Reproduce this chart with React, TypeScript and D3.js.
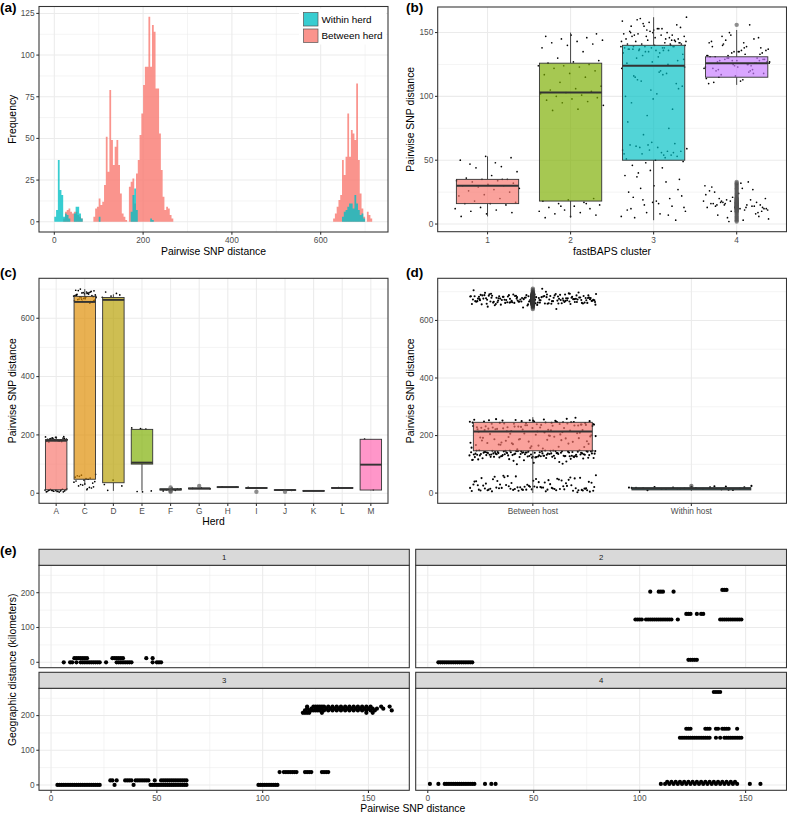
import React from "react";
import * as d3 from "d3";

// ================= DATA =================
// (a) histogram bins: [bin start, count], bin width 4
const HIST_BIN_WIDTH = 4;
const histSeries = ["Within herd", "Between herd"];
const withinHerdBins: [number, number][] = [
  [0, 3], [4, 7], [8, 37], [12, 19], [16, 16], [20, 3], [24, 5], [28, 4], [32, 2],
  [44, 5], [48, 9], [52, 9], [56, 5], [60, 2], [100, 3],
  [172, 6], [176, 16], [180, 20], [184, 7], [216, 2], [220, 1],
  [648, 3], [652, 6], [656, 7], [660, 9], [664, 11], [668, 11], [672, 8], [676, 16],
  [680, 11], [684, 7], [688, 4], [692, 5], [696, 2],
];
const betweenHerdBins: [number, number][] = [
  [20, 2], [24, 6], [28, 7], [32, 8], [36, 6], [40, 5], [44, 6], [48, 6], [52, 4], [56, 3], [60, 2],
  [88, 3], [92, 8], [96, 9], [100, 14], [104, 10], [108, 12], [112, 22], [116, 51], [120, 30],
  [124, 79], [128, 49], [132, 34], [136, 45], [140, 49], [144, 34], [148, 17], [152, 5], [156, 3], [160, 1],
  [168, 21], [172, 24], [176, 26], [180, 11], [184, 29], [188, 37], [192, 52], [196, 65], [200, 82],
  [204, 93], [208, 93], [212, 123], [216, 93], [220, 118], [224, 114], [228, 80], [232, 80], [236, 53],
  [240, 31], [244, 15], [248, 7], [252, 9], [256, 8], [260, 4], [264, 2],
  [628, 2], [632, 5], [636, 9], [640, 13], [644, 16], [648, 37], [652, 28], [656, 39], [660, 65],
  [664, 39], [668, 55], [672, 53], [676, 49], [680, 83], [684, 37], [688, 17], [692, 8], [696, 3],
  [704, 6], [708, 4], [712, 2],
];
const histXTicks = [0, 200, 400, 600];
const histYTicks = [0, 25, 50, 75, 100, 125];

// (b) fastBAPS clusters
const clusterLabels = ["1", "2", "3", "4"];
const clusterColors = ["#F8766D", "#7CAE00", "#00BFC4", "#C77CFF"];
// [lower whisker, Q1, median, Q3, upper whisker]
const clusterBoxStats = [
  [6, 16, 30, 35, 53],
  [5, 18, 103, 126, 150],
  [3, 50, 124, 140, 162],
  [109, 115, 126, 131, 152],
];
const cluster1Points = [48, 47, 52, 53, 50, 45, 44, 41, 38, 36, 35, 35, 34, 34, 33, 32, 31, 30, 30, 29, 28, 27, 26, 25, 23, 22, 20, 18, 17, 16, 16, 15, 13, 12, 11, 10, 9, 8, 6, 35];
const cluster2Points = [149, 148, 147, 146, 145, 144, 143, 142, 141, 140, 138, 135, 130, 128, 127, 126, 125, 124, 124, 123, 122, 120, 118, 117, 115, 111, 108, 106, 105, 104, 103, 102, 101, 100, 99, 98, 97, 96, 95, 93, 90, 89, 20, 19, 18, 17, 16, 15, 14, 13, 12, 11, 10, 9, 8, 7, 6, 5, 16, 14];
const cluster3Points = [
  155, 148, 152, 143, 138, 160, 145, 150, 141, 136, 157, 147, 153, 139, 144, 158, 149, 142, 137, 154,
  146, 151, 140, 135, 162, 148, 143, 156, 138, 145, 150, 141, 133, 153, 147, 139, 144, 159, 136, 149,
  142, 152, 137, 146, 155, 140, 134, 148, 143, 151, 138, 145, 161, 141, 136, 150, 144, 147, 139, 153,
  130, 128, 127, 126, 125, 132, 129, 131, 137, 139, 135, 134, 138, 136, 142, 140, 137, 141, 139, 143,
  120, 115, 110, 105, 100, 118, 112, 108, 102, 95, 90, 85, 122, 117, 113, 106, 98, 80, 75, 70, 123, 119, 116,
  63, 58, 55, 52, 60, 57, 50, 62, 54, 48, 59, 56, 61, 53, 64, 51, 57, 55, 49, 60, 46, 56, 62, 58, 54,
  40, 35, 30, 25, 20, 15, 10, 8, 5, 3, 42, 38, 33, 28, 22, 18, 12, 14, 9, 6, 44, 37, 27, 17, 11, 7, 19, 13, 16, 21,
];
const cluster4Points = [
  128, 132, 125, 140, 118, 135, 122, 145, 130, 127, 138, 115, 133, 124, 142, 120, 129, 136, 112, 131,
  126, 148, 123, 139, 117, 134, 128, 143, 121, 130, 137, 113, 127, 146, 125, 132, 119, 141, 129, 135,
  111, 126, 150, 122, 133, 128, 138, 116, 131, 124, 144, 127, 136, 120, 130, 134, 114, 125, 147, 129,
  123, 139, 118, 132, 126, 142, 121, 128, 135, 110, 156,
  15, 20, 12, 25, 8, 18, 30, 13, 17, 10, 22, 16, 14, 19, 11, 28, 15, 9, 21, 13, 33, 17, 12, 24, 16,
  14, 2, 18, 11, 20, 15, 13, 26, 19, 16, 12, 32, 14, 17, 10, 23, 15, 18, 13, 31, 29, 27, 5, 4, 3, 7, 6,
];
const clusterPoints = [cluster1Points, cluster2Points, cluster3Points, cluster4Points];
const clusterYTicks = [0, 50, 100, 150];

// (c) herds
const herdLabels = ["A", "C", "D", "E", "F", "G", "H", "I", "J", "K", "L", "M"];
const herdColors = ["#F8766D", "#DE8C00", "#B79F00", "#7CAE00", "#00BA38", "#00C08B", "#00BFC4", "#00B4F0", "#619CFF", "#C77CFF", "#F564E3", "#FF64B0"];
const herdBoxStats = [
  [5, 12, 180, 184, 195],
  [28, 48, 656, 675, 700],
  [8, 36, 663, 671, 682],
  [9, 100, 105, 219, 222],
  [9, 11, 13, 15, 17],
  [14, 15, 16, 18, 19],
  [20, 21, 21, 22, 22],
  [16, 17, 18, 19, 20],
  [9, 10, 11, 12, 13],
  [7, 8, 8, 9, 9],
  [17, 18, 18, 19, 19],
  [10, 11, 98, 185, 186],
];
const herdPoints = [
  [180, 185, 188, 192, 178, 183, 190, 186, 181, 176, 189, 184, 193, 179, 187, 182, 191, 185, 177, 188, 183, 180, 186, 194, 181,
    5, 8, 10, 12, 6, 9, 14, 7, 11, 4, 13, 8, 10, 6, 12, 9, 15, 7, 11, 5],
  [660, 670, 680, 690, 665, 675, 685, 695, 655, 668, 678, 688, 700, 662, 672, 682, 692, 658, 676, 686,
    666, 674, 684, 696, 652, 670, 680, 690, 664, 678, 688, 660, 683, 673, 694, 667, 679, 657, 687, 671,
    15, 25, 35, 45, 55, 20, 30, 40, 50, 60, 18, 28, 38, 48, 58, 22, 32, 42, 52, 62, 65, 12],
  [690, 680, 676, 672, 685, 10, 25, 45, 30],
  [222, 224, 220, 6, 8, 5],
  [10, 12, 15, 18, 8, 14],
  [15, 18, 17],
  [22, 21],
  [18, 20],
  [10, 12],
  [8],
  [19],
  [12, 186],
];
const herdOutliers = [[], [], [], [], [5, 8, 20], [25], [], [5], [5], [], [], []];
const herdYTicks = [0, 200, 400, 600];

// (d) host
const hostLabels = ["Between host", "Within host"];
const hostColors = ["#F8766D", "#00BFC4"];
const hostBoxStats = [
  [0, 147, 214, 246, 264],
  [8, 11, 15, 19, 24],
];
const betweenHostPoints = [
  660, 672, 668, 681, 655, 690, 677, 664, 684, 670, 659, 675, 687, 662, 679, 693, 666, 673, 658, 682,
  671, 650, 688, 676, 661, 669, 685, 657, 674, 680, 667, 692, 663, 678, 654, 686, 670, 665, 683, 660,
  676, 697, 671, 656, 689, 668, 674, 681, 662, 679, 645, 684, 667, 672, 659, 691, 677, 664, 686, 670,
  700, 663, 675, 652, 682, 669, 688, 661, 678, 666, 694, 673, 657, 685, 671, 680, 664, 676, 660, 690,
  668, 683, 653, 674, 679, 665, 687, 671, 662, 681, 648, 677, 669, 692, 658, 684, 673, 666, 689, 675,
  663, 680, 670, 686, 657, 678, 705, 667, 682, 661, 674, 696, 669, 685, 672, 659, 679, 664, 688, 676,
  640, 683, 670, 662, 691, 677, 666, 684, 673, 655, 680, 668, 687, 671, 663, 678, 710, 665, 682, 674,
  667, 679, 661, 685, 672, 658, 690, 676, 664, 681, 669, 687, 656, 674, 683, 662, 678, 671, 693, 666,
  230, 245, 218, 252, 238, 226, 249, 212, 241, 233, 256, 222, 247, 236, 229, 251, 215, 243, 239, 224,
  258, 231, 248, 220, 244, 235, 253, 227, 240, 216, 250, 237, 228, 246, 221, 255, 234, 242, 219, 249,
  232, 226, 254, 238, 245, 223, 262, 236, 213, 247, 195, 180, 165, 205, 172, 188, 158, 199, 176, 210,
  163, 192, 184, 170, 201, 155, 187, 178, 207, 167, 196, 182, 160, 203, 174, 190, 152, 198, 185, 169,
  208, 179, 193, 161, 206, 171, 228, 241, 217, 250, 233, 244, 225, 238, 252, 219, 246, 231, 240, 211,
  257, 235, 243, 222, 249, 229, 237, 214, 253, 242, 186, 175, 200, 168, 191, 157, 183, 204, 173, 197,
  145, 138, 130, 142, 125, 148, 135, 120, 140, 132, 128, 146, 137, 122, 143, 133, 127, 149, 139, 118,
  144, 131, 126, 141, 136, 115, 147, 129, 134, 123, 140, 145, 112, 138, 130, 143, 127, 135, 148, 121,
  141, 133, 125, 139, 110, 146, 131, 137, 124, 144, 129, 136, 108, 142, 132, 128, 147, 119, 140, 134,
  126, 145, 138, 105, 143, 130, 137, 122, 148, 135, 129, 141, 117, 139, 131, 146, 127, 133, 144, 125,
  142, 136, 128, 149, 134, 121, 140, 132, 145, 138, 126, 143, 114, 137, 130, 147, 135, 124, 141, 129,
  100, 146, 133, 139, 127, 144, 131, 136, 148, 123, 142, 134, 128, 145, 116, 138, 132, 140, 126, 143,
  102, 135, 147, 130, 137, 125, 141, 133, 146, 139,
  15, 20, 12, 25, 8, 18, 45, 30, 10, 22, 52, 14, 35, 5, 19, 48, 27, 11, 40, 16,
  55, 9, 23, 33, 13, 58, 21, 6, 42, 17, 29, 12, 50, 24, 10, 38, 15, 46, 20, 7,
  31, 18, 53, 13, 26, 44, 11, 36, 19, 57, 8, 22, 41, 14, 28, 16, 49, 10, 34, 20,
  62, 12, 17, 3, 25, 9, 47, 15, 39, 21, 6, 54, 13, 30, 18, 60, 11, 43, 16, 24,
  14, 8, 37, 19, 51, 12, 27, 10, 59, 17,
];
const withinHostPoints = [12, 15, 18, 20, 14, 16, 22, 17, 13, 19, 25, 15, 21, 11, 16, 18, 24, 14, 20, 17, 10, 23, 15, 19];
const hostPoints = [betweenHostPoints, withinHostPoints];
const hostYTicks = [0, 200, 400, 600];

// (e) geographic vs SNP distance, rows of [km, SNP distances]
const facetLabels = ["1", "2", "3", "4"];
const facet1Rows: [number, number[]][] = [
  [0, [6, 9, 10, 12, 14, 15, 16, 17, 18, 19, 20, 21, 22, 23, 26, 31, 32, 33, 34, 35, 36, 37, 38, 48, 50, 51, 52]],
  [12, [11, 12, 13, 14, 15, 16, 17, 29, 30, 31, 32, 33, 34, 45, 48]],
];
const facet2Rows: [number, number[]][] = [
  [0, [5, 6, 7, 8, 9, 10, 11, 12, 13, 14, 15, 16, 17, 18, 19, 20, 21]],
  [7, [123, 124, 125, 126, 127]],
  [123, [98, 99, 100, 101, 103, 104, 105, 106, 107, 108, 109, 110, 111, 112, 113, 114, 115, 118, 138, 139, 140, 141, 142, 143, 144, 145, 146, 147, 148]],
  [139, [122, 123, 124, 127, 129, 130]],
  [203, [105, 109, 110, 111, 116]],
  [208, [139, 140, 141]],
];
const facet3Rows: [number, number[]][] = [
  [0, [3, 4, 5, 6, 7, 8, 9, 10, 11, 12, 13, 14, 15, 16, 17, 18, 19, 20, 21, 22, 23, 30, 39, 47, 48, 49, 50, 51, 52, 53, 54, 55, 56, 57, 58, 59, 60, 61, 62, 63, 64, 98, 99, 100, 101, 102, 103, 104, 105, 106, 107]],
  [13, [28, 29, 31, 35, 36, 37, 38, 40, 41, 42, 43, 44, 45, 46, 49, 52, 53, 54, 55, 56, 57, 58, 59, 60, 61, 62, 63, 64]],
  [37, [108, 110, 111, 112, 113, 114, 115, 116, 120, 121, 122, 123, 128, 129, 130, 131]],
  [208, [119, 120, 121, 122, 128, 149, 152]],
  [215, [120, 122, 123, 124, 125, 126, 127, 129, 131, 133, 135, 137, 139, 141, 143, 145, 147, 149, 151, 153, 161]],
  [220, [121, 123, 125, 126, 127, 128, 130, 132, 134, 136, 138, 140, 142, 144, 146, 148, 150, 152, 154, 157]],
  [226, [121, 124, 125, 126, 127, 128, 129, 131, 133, 135, 137, 139, 141, 143, 145, 147, 149, 151, 156, 160]],
];
const facet4Rows: [number, number[]][] = [
  [3, [1, 5, 8, 9, 10, 11, 12, 13, 14, 15, 16, 17, 18, 19, 20, 21, 22, 27, 30, 32, 110, 112, 114, 116, 118, 120, 122, 124, 126, 128, 130, 132, 134, 136, 138, 140, 142, 144, 146, 152, 157]],
  [9, [113, 115, 117, 119, 121, 123, 125, 127, 129, 131, 133, 135, 137, 139, 141, 143, 145]],
  [136, [119, 120, 121, 122, 123, 124, 125, 126, 127, 128, 129, 130, 131, 132, 133, 136, 138, 140, 141, 142, 143, 144, 145, 146, 147, 148]],
  [162, [122, 123, 124, 131, 132, 133, 136, 137, 139, 140, 141, 142, 146]],
  [268, [135, 136, 137, 138]],
];
const facetRows = [facet1Rows, facet2Rows, facet3Rows, facet4Rows];
const geoXTicks = [0, 50, 100, 150];
const geoYTicks = [0, 100, 200];

// ================= DRAWING =================
const FONT = "'Liberation Sans', Arial, Helvetica, sans-serif";
const GRID = "#EBEBEB";
const DARK = "#333333";
const TICK_COL = "#4D4D4D";
const TICK_FS = 8.3;
const TITLE_FS = 10.4;

const jit = (i: number, k: number) => ((((i + 1) * 0.6180339887 + k * 0.2719) % 1) * 2 - 1);

type Rect = { x0: number; x1: number; y0: number; y1: number };

function Grid({ r, xMajor = [], xMinor = [], yMajor = [], yMinor = [] }: { r: Rect; xMajor?: number[]; xMinor?: number[]; yMajor?: number[]; yMinor?: number[] }) {
  return (
    <g>
      <rect x={r.x0} y={r.y0} width={r.x1 - r.x0} height={r.y1 - r.y0} fill="#fff" />
      {yMinor.map((y, i) => <line key={"ym" + i} x1={r.x0} x2={r.x1} y1={y} y2={y} stroke={GRID} strokeWidth={0.55} />)}
      {xMinor.map((x, i) => <line key={"xm" + i} x1={x} x2={x} y1={r.y0} y2={r.y1} stroke={GRID} strokeWidth={0.55} />)}
      {yMajor.map((y, i) => <line key={"yM" + i} x1={r.x0} x2={r.x1} y1={y} y2={y} stroke={GRID} strokeWidth={1.07} />)}
      {xMajor.map((x, i) => <line key={"xM" + i} x1={x} x2={x} y1={r.y0} y2={r.y1} stroke={GRID} strokeWidth={1.07} />)}
    </g>
  );
}

function Border({ r }: { r: Rect }) {
  return <rect x={r.x0} y={r.y0} width={r.x1 - r.x0} height={r.y1 - r.y0} fill="none" stroke={DARK} strokeWidth={1.07} />;
}

function YAxis({ x, ticks }: { x: number; ticks: { p: number; label: string }[] }) {
  return (
    <g>
      {ticks.map((t, i) => (
        <g key={i}>
          <line x1={x - 2.7} x2={x} y1={t.p} y2={t.p} stroke={DARK} strokeWidth={1.07} />
          <text x={x - 4.4} y={t.p} dy="0.35em" textAnchor="end" fontSize={TICK_FS} fill={TICK_COL} fontFamily={FONT}>{t.label}</text>
        </g>
      ))}
    </g>
  );
}

function XAxis({ y, ticks }: { y: number; ticks: { p: number; label: string }[] }) {
  return (
    <g>
      {ticks.map((t, i) => (
        <g key={i}>
          <line x1={t.p} x2={t.p} y1={y} y2={y + 2.7} stroke={DARK} strokeWidth={1.07} />
          <text x={t.p} y={y + 4.4} dy="0.78em" textAnchor="middle" fontSize={TICK_FS} fill={TICK_COL} fontFamily={FONT}>{t.label}</text>
        </g>
      ))}
    </g>
  );
}

function Box({ cx, hw, stats, ys, color }: { cx: number; hw: number; stats: number[]; ys: (v: number) => number; color: string }) {
  const [lo, q1, med, q3, hi] = stats;
  return (
    <g>
      <line x1={cx} x2={cx} y1={ys(hi)} y2={ys(q3)} stroke={DARK} strokeWidth={0.9} />
      <line x1={cx} x2={cx} y1={ys(q1)} y2={ys(lo)} stroke={DARK} strokeWidth={0.9} />
      <rect x={cx - hw} y={ys(q3)} width={2 * hw} height={Math.max(0.5, ys(q1) - ys(q3))} fill={color} fillOpacity={0.68} stroke={DARK} strokeWidth={0.9} />
      <line x1={cx - hw} x2={cx + hw} y1={ys(med)} y2={ys(med)} stroke={DARK} strokeWidth={1.9} />
    </g>
  );
}

function YTitle({ x, y, text }: { x: number; y: number; text: string }) {
  return (
    <text x={x} y={y} transform={`rotate(-90 ${x} ${y})`} textAnchor="middle" dy="0.35em" fontSize={TITLE_FS} fontFamily={FONT} fill="#000">{text}</text>
  );
}
function XTitle({ x, y, text }: { x: number; y: number; text: string }) {
  return <text x={x} y={y} textAnchor="middle" dy="0.35em" fontSize={TITLE_FS} fontFamily={FONT} fill="#000">{text}</text>;
}
function Tag({ x, y, text }: { x: number; y: number; text: string }) {
  return <text x={x} y={y} fontSize={13.5} fontWeight="bold" fontFamily={FONT} fill="#000">{text}</text>;
}

export default function App() {
  // ---------- (a) ----------
  const ra: Rect = { x0: 39, x1: 388, y0: 6.5, y1: 232 };
  const xa = d3.scaleLinear().domain([-34.5, 751.6]).range([ra.x0, ra.x1]);
  const ya = d3.scaleLinear().domain([-6.15, 129.15]).range([ra.y1, ra.y0]);
  const histColors = ["#00BFC4", "#F8766D"];
  const histPath = (bins: [number, number][]) => {
    const p = d3.path();
    bins.forEach(([s, c]) => {
      p.rect(xa(s), ya(c), xa(s + HIST_BIN_WIDTH) - xa(s), ya(0) - ya(c));
    });
    return p.toString();
  };

  // ---------- (b) ----------
  const rb: Rect = { x0: 437.7, x1: 786.5, y0: 7, y1: 231.7 };
  const xb = d3.scaleLinear().domain([0.4, 4.6]).range([rb.x0, rb.x1]);
  const yb = d3.scaleLinear().domain([-6, 170]).range([rb.y1, rb.y0]);
  const hwb = (xb(1.375) - xb(1));

  // ---------- (c) ----------
  const rc: Rect = { x0: 39, x1: 388, y0: 278.3, y1: 503.3 };
  const xc = d3.scaleLinear().domain([0.4, 12.6]).range([rc.x0, rc.x1]);
  const yc = d3.scaleLinear().domain([-34.5, 737]).range([rc.y1, rc.y0]);
  const hwc = xc(1.375) - xc(1);

  // ---------- (d) ----------
  const rd: Rect = { x0: 437.7, x1: 786.5, y0: 278.3, y1: 503.3 };
  const xd = d3.scaleLinear().domain([0.4, 2.6]).range([rd.x0, rd.x1]);
  const yd = d3.scaleLinear().domain([-35.5, 746.5]).range([rd.y1, rd.y0]);
  const hwd = xd(1.375) - xd(1);

  // ---------- (e) ----------
  const colX = [[39, 409.3], [415.7, 786.5]];
  const rowY = [[565.3, 667.7], [688.3, 790.3]];
  const stripH = 16;

  return (
    <svg width={787} height={813} style={{ position: "absolute", left: 0, top: 0, display: "block", background: "#fff" }} fontFamily={FONT}>
      <rect x={0} y={0} width={787} height={813} fill="#fff" />

      {/* ===== (a) ===== */}
      <Grid r={ra}
        xMajor={histXTicks.map(xa)} xMinor={[100, 300, 500, 700].map(xa)}
        yMajor={histYTicks.map(ya)} yMinor={[12.5, 37.5, 62.5, 87.5, 112.5].map(ya)} />
      <path d={histPath(betweenHerdBins)} fill={histColors[1]} fillOpacity={0.78} />
      <path d={histPath(withinHerdBins)} fill={histColors[0]} fillOpacity={0.78} />
      {/* legend */}
      <rect x={299} y={8.5} width={87} height={36} fill="#fff" />
      {histSeries.map((s, i) => (
        <g key={s}>
          <rect x={303.5} y={12.5 + i * 16.5} width={14.5} height={13.5} fill={histColors[i]} fillOpacity={0.78} stroke="#555" strokeWidth={0.7} />
          <text x={321.5} y={19.3 + i * 16.5} dy="0.35em" fontSize={9.9} fontFamily={FONT} fill="#000">{s}</text>
        </g>
      ))}
      <Border r={ra} />
      <YAxis x={ra.x0} ticks={histYTicks.map(t => ({ p: ya(t), label: String(t) }))} />
      <XAxis y={ra.y1} ticks={histXTicks.map(t => ({ p: xa(t), label: String(t) }))} />
      <YTitle x={12.5} y={(ra.y0 + ra.y1) / 2} text="Frequency" />
      <XTitle x={(ra.x0 + ra.x1) / 2} y={251} text="Pairwise SNP distance" />
      <Tag x={0} y={11.5} text="(a)" />

      {/* ===== (b) ===== */}
      <Grid r={rb}
        xMajor={clusterLabels.map((_, i) => xb(i + 1))}
        yMajor={clusterYTicks.map(yb)} yMinor={[25, 75, 125].map(yb)} />
      {clusterPoints.map((pts, c) => pts.map((v, i) => (
        <circle key={`bp${c}-${i}`} cx={xb(c + 1 + 0.4 * jit(i, c))} cy={yb(v)} r={0.85} fill="#000" />
      )))}
      {clusterBoxStats.map((st, c) => (
        <g key={"bb" + c}>
          <Box cx={xb(c + 1)} hw={hwb} stats={st} ys={yb} color={clusterColors[c]} />
          {clusterPoints[c].filter(v => v < st[0] || v > st[4]).map((v, i) => (
            <circle key={`bo${c}-${i}`} cx={xb(c + 1)} cy={yb(v)} r={2.2} fill="#555" fillOpacity={0.65} />
          ))}
        </g>
      ))}
      <Border r={rb} />
      <YAxis x={rb.x0} ticks={clusterYTicks.map(t => ({ p: yb(t), label: String(t) }))} />
      <XAxis y={rb.y1} ticks={clusterLabels.map((l, i) => ({ p: xb(i + 1), label: l }))} />
      <YTitle x={410.7} y={(rb.y0 + rb.y1) / 2} text="Pairwise SNP distance" />
      <XTitle x={(rb.x0 + rb.x1) / 2} y={251} text="fastBAPS cluster" />
      <Tag x={406} y={11.5} text="(b)" />

      {/* ===== (c) ===== */}
      <Grid r={rc}
        xMajor={herdLabels.map((_, i) => xc(i + 1))}
        yMajor={herdYTicks.map(yc)} yMinor={[100, 300, 500, 700].map(yc)} />
      {herdPoints.map((pts, h) => pts.map((v, i) => (
        <circle key={`cp${h}-${i}`} cx={xc(h + 1 + 0.4 * jit(i, h))} cy={yc(v)} r={0.85} fill="#000" />
      )))}
      {herdBoxStats.map((st, h) => (
        <g key={"cb" + h}>
          <Box cx={xc(h + 1)} hw={hwc} stats={st} ys={yc} color={herdColors[h]} />
          {herdOutliers[h].map((v, i) => (
            <circle key={`co${h}-${i}`} cx={xc(h + 1)} cy={yc(v)} r={2.2} fill="#555" fillOpacity={0.65} />
          ))}
        </g>
      ))}
      <Border r={rc} />
      <YAxis x={rc.x0} ticks={herdYTicks.map(t => ({ p: yc(t), label: String(t) }))} />
      <XAxis y={rc.y1} ticks={herdLabels.map((l, i) => ({ p: xc(i + 1), label: l }))} />
      <YTitle x={12.5} y={(rc.y0 + rc.y1) / 2} text="Pairwise SNP distance" />
      <XTitle x={(rc.x0 + rc.x1) / 2} y={521.7} text="Herd" />
      <Tag x={0} y={277} text="(c)" />

      {/* ===== (d) ===== */}
      <Grid r={rd}
        xMajor={hostLabels.map((_, i) => xd(i + 1))}
        yMajor={hostYTicks.map(yd)} yMinor={[100, 300, 500, 700].map(yd)} />
      {hostPoints.map((pts, g) => pts.map((v, i) => (
        <circle key={`dp${g}-${i}`} cx={xd(g + 1 + 0.4 * jit(i, g + 7))} cy={yd(v)} r={1.05} fill="#000" />
      )))}
      {hostBoxStats.map((st, g) => (
        <g key={"db" + g}>
          <Box cx={xd(g + 1)} hw={hwd} stats={st} ys={yd} color={hostColors[g]} />
          {hostPoints[g].filter(v => v < st[0] || v > st[4]).map((v, i) => (
            <circle key={`do${g}-${i}`} cx={xd(g + 1)} cy={yd(v)} r={2.2} fill="#333" fillOpacity={0.6} />
          ))}
        </g>
      ))}
      <Border r={rd} />
      <YAxis x={rd.x0} ticks={hostYTicks.map(t => ({ p: yd(t), label: String(t) }))} />
      <XAxis y={rd.y1} ticks={hostLabels.map((l, i) => ({ p: xd(i + 1), label: l }))} />
      <YTitle x={410.7} y={(rd.y0 + rd.y1) / 2} text="Pairwise SNP distance" />
      <Tag x={406} y={277} text="(d)" />

      {/* ===== (e) ===== */}
      {facetLabels.map((lab, f) => {
        const col = f % 2, row = Math.floor(f / 2);
        const r: Rect = { x0: colX[col][0], x1: colX[col][1], y0: rowY[row][0], y1: rowY[row][1] };
        const xe = d3.scaleLinear().domain([-5.7, 169.3]).range([r.x0, r.x1]);
        const ye = d3.scaleLinear().domain([-15.5, 278.7]).range([r.y1, r.y0]);
        return (
          <g key={"f" + f}>
            <Grid r={r}
              xMajor={geoXTicks.map(xe)} xMinor={[25, 75, 125].map(xe)}
              yMajor={geoYTicks.map(ye)} yMinor={[50, 150, 250].map(ye)} />
            {facetRows[f].map(([km, snps], j) => snps.map((s, i) => (
              <circle key={`e${f}-${j}-${i}`} cx={xe(s)} cy={ye(km)} r={2.1} fill="#000" />
            )))}
            <Border r={r} />
            <rect x={r.x0} y={r.y0 - stripH} width={r.x1 - r.x0} height={stripH} fill="#D9D9D9" stroke={DARK} strokeWidth={1.07} />
            <text x={(r.x0 + r.x1) / 2} y={r.y0 - stripH / 2} dy="0.35em" textAnchor="middle" fontSize={7.8} fill="#1A1A1A" fontFamily={FONT}>{lab}</text>
            {col === 0 && <YAxis x={r.x0} ticks={geoYTicks.map(t => ({ p: ye(t), label: String(t) }))} />}
            {row === 1 && <XAxis y={r.y1} ticks={geoXTicks.map(t => ({ p: xe(t), label: String(t) }))} />}
          </g>
        );
      })}
      <YTitle x={12.5} y={(rowY[0][0] - stripH + rowY[1][1]) / 2} text="Geographic distance (kilometers)" />
      <XTitle x={(colX[0][0] + colX[1][1]) / 2} y={808.5} text="Pairwise SNP distance" />
      <Tag x={0} y={554.5} text="(e)" />
    </svg>
  );
}
